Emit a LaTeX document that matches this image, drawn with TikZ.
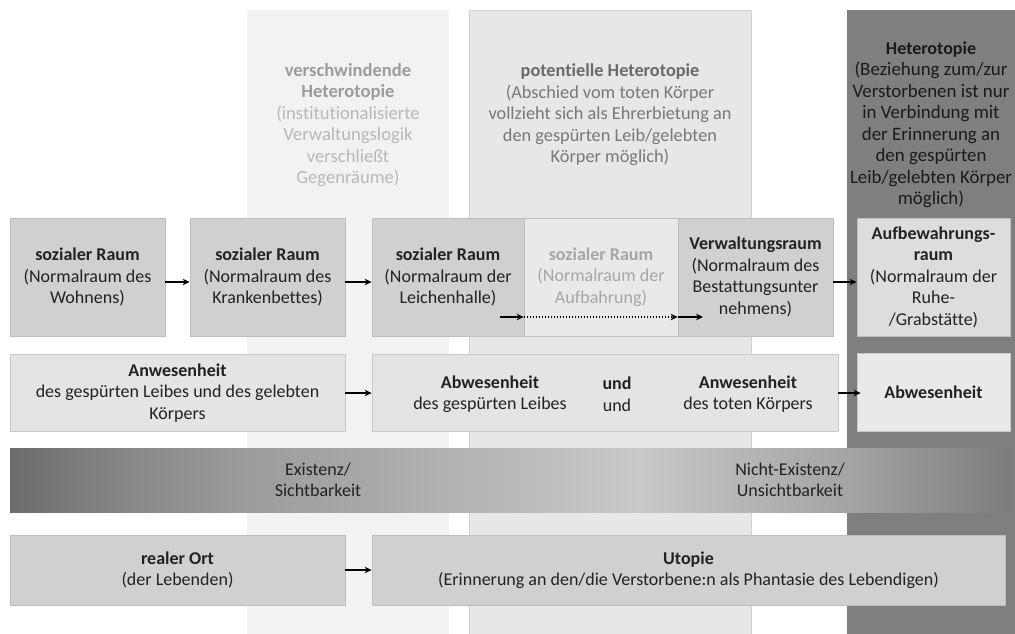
\documentclass[tikz,border=0pt]{standalone}
\usepackage{fontspec}
\setmainfont{Carlito}[Ligatures=NoCommon]
\usetikzlibrary{arrows.meta,calc}

% palette
\definecolor{colOneFill}{HTML}{F2F2F2}
\definecolor{colOneBold}{HTML}{9C9C9C}
\definecolor{colOneText}{HTML}{B8B8B8}
\definecolor{colTwoFill}{HTML}{E7E7E7}
\definecolor{colTwoEdge}{HTML}{D2D2D2}
\definecolor{colTwoBold}{HTML}{6A6A6A}
\definecolor{colTwoText}{HTML}{787878}
\definecolor{colThreeFill}{HTML}{7F7F7F}
\definecolor{colThreeText}{HTML}{1A1A1A}
\definecolor{boxFill}{HTML}{D0D0D0}
\definecolor{boxEdge}{HTML}{BEBEBE}
\definecolor{paleFill}{HTML}{E9E9E9}
\definecolor{paleText}{HTML}{A6A6A6}
\definecolor{restFill}{HTML}{DDDDDD}
\definecolor{rowTwoFill}{HTML}{E4E4E4}
\definecolor{rowTwoEdge}{HTML}{C9C9C9}
\definecolor{darkText}{HTML}{222222}

% band shading: the path is mapped onto 25bp..75bp
\definecolor{bandA}{HTML}{6C6C6C}
\definecolor{bandB}{HTML}{888888}
\definecolor{bandC}{HTML}{9C9C9C}
\definecolor{bandD}{HTML}{ACACAC}
\definecolor{bandE}{HTML}{C9C9C9}
\definecolor{bandF}{HTML}{BDBDBD}
\definecolor{bandG}{HTML}{A4A4A4}
\definecolor{bandH}{HTML}{7C7C7C}
\pgfdeclarehorizontalshading{bandshade}{100bp}{%
  color(0bp)=(bandA); color(25bp)=(bandA); color(31bp)=(bandB);
  color(37bp)=(bandC); color(44.5bp)=(bandD); color(56.4bp)=(bandE);
  color(59.4bp)=(bandF); color(66.9bp)=(bandG);
  color(75bp)=(bandH); color(100bp)=(bandH)}

\tikzset{
  basefont/.style={font=\fontsize{18}{21.5}\selectfont},
  coltext/.style={basefont, align=center, inner sep=0pt},
  rowbox/.style={basefont, draw=boxEdge, fill=boxFill, align=center,
    inner sep=0pt, line width=0.8pt, text=darkText},
  palebox/.style={rowbox, fill=paleFill, text=paleText},
  restbox/.style={rowbox, fill=restFill},
  lightbox/.style={basefont, draw=rowTwoEdge, fill=rowTwoFill, align=center,
    inner sep=0pt, line width=0.8pt, text=darkText},
  plain/.style={basefont, align=center, inner sep=0pt, text=darkText},
  arr/.style={line width=1.5pt, -{Stealth[length=7pt,width=6.5pt]}},
  dotarr/.style={arr, dash pattern=on 1.7pt off 1.3pt}
}

\begin{document}
\begin{tikzpicture}[x=1pt,y=-1pt]
\useasboundingbox (0,0) rectangle (1015,633);
\fill[white] (0,0) rectangle (1015,633);

% background columns
\fill[colOneFill] (247,10) rectangle (449,640);
\filldraw[fill=colTwoFill, draw=colTwoEdge, line width=0.8pt] (469,10) rectangle (751,640);
\fill[colThreeFill] (847,10) rectangle (1020,640);

\node[coltext, text=colOneText, font=\fontsize{18.6}{21.5}\selectfont] (vanish) at (348,125)
  {\textcolor{colOneBold}{\bfseries verschwindende}\\
   \textcolor{colOneBold}{\bfseries Heterotopie}\\
   (institutionalisierte\\ Verwaltungslogik\\ verschließt\\ Gegenräume)};
\node[coltext, text=colTwoText, font=\fontsize{18.3}{21.5}\selectfont] (potential) at (610,115)
  {\textcolor{colTwoBold}{\bfseries potentielle Heterotopie}\\
   (Abschied vom toten Körper\\ vollzieht sich als Ehrerbietung an\\
   den gespürten Leib/gelebten\\ Körper möglich)};
\node[coltext, text=colThreeText, font=\fontsize{18.9}{21.5}\selectfont] (hetero) at (931,125)
  {{\fontsize{18}{21.5}\selectfont\bfseries Heterotopie}\\ (Beziehung zum/zur\\ Verstorbenen ist nur\\
   in Verbindung mit\\ der Erinnerung an\\ den gespürten\\
   Leib/gelebten Körper\\ möglich)};

% row 1: spaces
\node[rowbox, minimum width=155pt, minimum height=118pt] (wohnen) at (87.5,277)
  {\textbf{sozialer Raum}\\ (Normalraum des\\ Wohnens)};
\node[rowbox, minimum width=155pt, minimum height=118pt] (kranken) at (267.5,277)
  {\textbf{sozialer Raum}\\ (Normalraum des\\ Krankenbettes)};
\node[rowbox, minimum width=152pt, minimum height=118pt] (leichen) at (448,277)
  {\textbf{sozialer Raum}\\ (Normalraum der\\ Leichenhalle)};
\node[palebox, minimum width=154pt, minimum height=118pt] (aufbahr) at (601,277)
  {\textbf{sozialer Raum}\\ (Normalraum der\\ Aufbahrung)};
\node[rowbox, minimum width=155pt, minimum height=118pt] (verwalt) at (755.5,277)
  {\textbf{Verwaltungsraum}\\ (Normalraum des\\ Bestattungsunter\\ nehmens)};
\node[restbox, minimum width=153pt, minimum height=118pt] (ruhe) at (933.5,277)
  {\textbf{Aufbewahrungs-}\\ \textbf{raum}\\ (Normalraum der\\ Ruhe-\\ /Grabstätte)};

\draw[arr] ([yshift=-5pt]wohnen.east) -- ([yshift=-5pt]kranken.west);
\draw[arr] ([yshift=-5pt]kranken.east) -- ([yshift=-5pt]leichen.west);
\draw[arr] ([yshift=-5pt]verwalt.east) -- ([yshift=-5pt]ruhe.west);

% passage through the laying-out room
\coordinate (pstart) at (500,317);
\coordinate (pend) at (703,317);
\draw[arr] (pstart) -- (pstart -| aufbahr.west);
\draw[dotarr] (pstart -| aufbahr.west) -- (pstart -| verwalt.west);
\draw[arr] (pstart -| verwalt.west) -- (pend);

% row 2: presence / absence
\node[lightbox, minimum width=335pt, minimum height=77pt] (anwes) at (177.5,393)
  {\textbf{Anwesenheit}\\ des gespürten Leibes und des gelebten\\ Körpers};
\node[lightbox, minimum width=466pt, minimum height=77pt] (zwischen) at (605,393) {};
\node[plain] (abw) at (490,394) {\textbf{Abwesenheit}\\ des gespürten Leibes};
\node[plain] (und) at (617,394) {\textbf{und}\\ und};
\node[plain] (anw) at (748,394) {\textbf{Anwesenheit}\\ des toten Körpers};
\node[lightbox, fill=paleFill, minimum width=153pt, minimum height=78pt] (abwes) at (933.5,392)
  {\textbf{Abwesenheit}};

\draw[arr] (anwes.east) -- (zwischen.west);
\draw[arr] (zwischen.east) -- ([xshift=4pt]abwes.west |- zwischen.east);

% row 3: existence band
\node[shade, shading=bandshade, minimum width=1002pt, minimum height=64pt, inner sep=0pt]
  (band) at (511,480) {};
\node[plain] (exist) at (318,480) {Existenz/\\ Sichtbarkeit};
\node[plain] (nonexist) at (790,480) {Nicht-Existenz/\\ Unsichtbarkeit};

% row 4: places
\node[rowbox, minimum width=335pt, minimum height=70pt] (realort) at (177.5,570)
  {\textbf{realer Ort}\\ (der Lebenden)};
\node[rowbox, minimum width=633pt, minimum height=70pt] (utopie) at (688.5,570)
  {\textbf{Utopie}\\ (Erinnerung an den/die Verstorbene:n als Phantasie des Lebendigen)};
\draw[arr] (realort.east) -- (utopie.west);
\end{tikzpicture}
\end{document}
